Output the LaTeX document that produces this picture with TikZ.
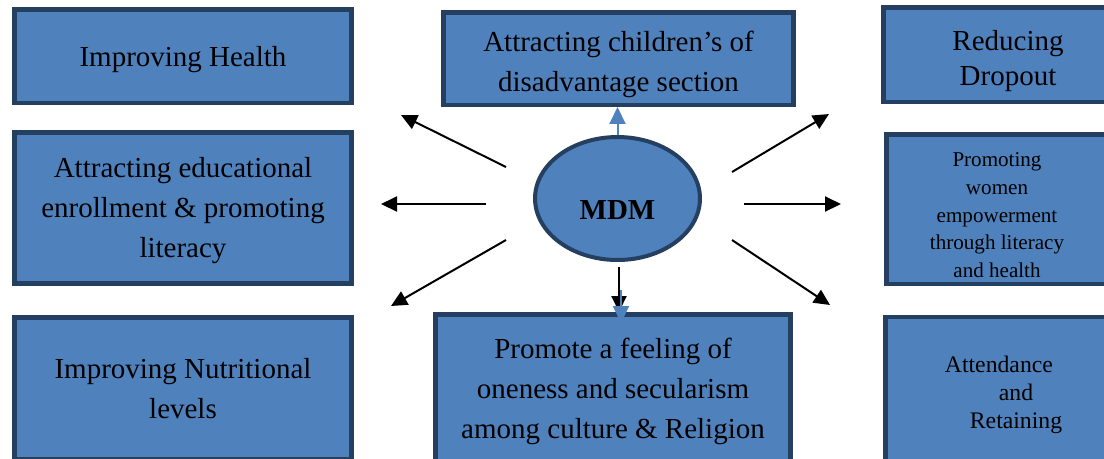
\documentclass[tikz,border=0pt]{standalone}
\usepackage{fontspec}
\setmainfont{Liberation Serif}
\usetikzlibrary{arrows.meta,shapes.geometric,positioning}
\definecolor{boxfill}{HTML}{4F81BD}
\definecolor{boxline}{HTML}{243F60}
\newcommand\sink[1]{\rule{0pt}{#1}}
\tikzset{%
  goal/.style={rectangle,draw=boxline,fill=boxfill,line width=0.09cm,align=center,inner sep=0pt,font=\fontsize{16.5}{22.8}\selectfont},
  hub/.style={ellipse,draw=boxline,fill=boxfill,line width=0.08cm,inner sep=0pt},
  spoke/.style={line width=0.04cm,-{Triangle[length=0.32cm,width=0.3cm]}},
  bluespoke/.style={spoke,draw=boxfill,-{Triangle[length=0.34cm,width=0.32cm]}}%
}
\begin{document}
\begin{tikzpicture}[x=0.02cm,y=-0.02cm]
    \useasboundingbox (0,0) rectangle (1104,458);
    \clip (0,0) rectangle (1104,458);

    % left column
    \node (health) [goal,minimum width=6.75cm,minimum height=1.87cm] at (183,56) {\sink{15.9pt}Improving Health};
    \node (enroll) [goal,minimum width=6.75cm,minimum height=3.03cm] at (183,208) {\sink{14.7pt}Attracting educational\\enrollment \& promoting\\literacy};
    \node (nutrition) [goal,minimum width=6.75cm,minimum height=2.83cm] at (183,388) {\sink{12.2pt}Improving Nutritional\\levels};

    % middle column
    \node (children) [goal,minimum width=7.01cm,minimum height=1.85cm] at (618.5,58.5) {\sink{18.1pt}Attracting children’s of\\disadvantage section};
    \node (oneness) [goal,minimum width=7.11cm,minimum height=2.93cm] at (613,387.5) {\sink{15.9pt}Promote a feeling of\\oneness and secularism\\among culture \& Religion};
    \node (mdm) [hub,minimum width=3.3cm,minimum height=2.46cm] at (617.5,198.5) {};
    \node (mdmtext) [font=\fontsize{16.5}{19}\selectfont\bfseries] at (617.5,210) {MDM};

    % right column
    \node (dropout) [goal,minimum width=4.99cm,minimum height=1.89cm,font=\fontsize{16.5}{19.9}\selectfont] at (1008,54.5) {\sink{18.7pt}Reducing\\Dropout};
    \node (women) [goal,minimum width=4.43cm,minimum height=2.99cm,font=\fontsize{12}{15.8}\selectfont] at (997,209) {\sink{15pt}Promoting\\women\\empowerment\\through literacy\\and health};
    \node (attend) [goal,minimum width=4.73cm,minimum height=3.0cm,align=left,font=\fontsize{13.5}{15.8}\selectfont] at (1003.5,392) {\sink{12.6pt}Attendance\\\hspace*{1.08cm}and\\\hspace*{0.5cm}Retaining};

    % arrows
    \foreach \name/\sx/\sy/\ex/\ey in {nw/506/167/401/115, w/486/204/381/204, sw/506/240/391/306, ne/732/172/829/114, e/744/204/841/204, se/732/240/830/305, s/619/267/619/312}
    {
      \coordinate (\name-from) at (\sx,\sy);
      \coordinate (\name-to) at (\ex,\ey);
      \draw[spoke] (\name-from) -- (\name-to);
    }
    \draw[bluespoke] (mdm.north) -- (mdm.north |- children.south);
    \coordinate (down-from) at (621,290);
    \coordinate (down-to) at (621,323);
    \draw[bluespoke] (down-from) -- (down-to);
\end{tikzpicture}
\end{document}
